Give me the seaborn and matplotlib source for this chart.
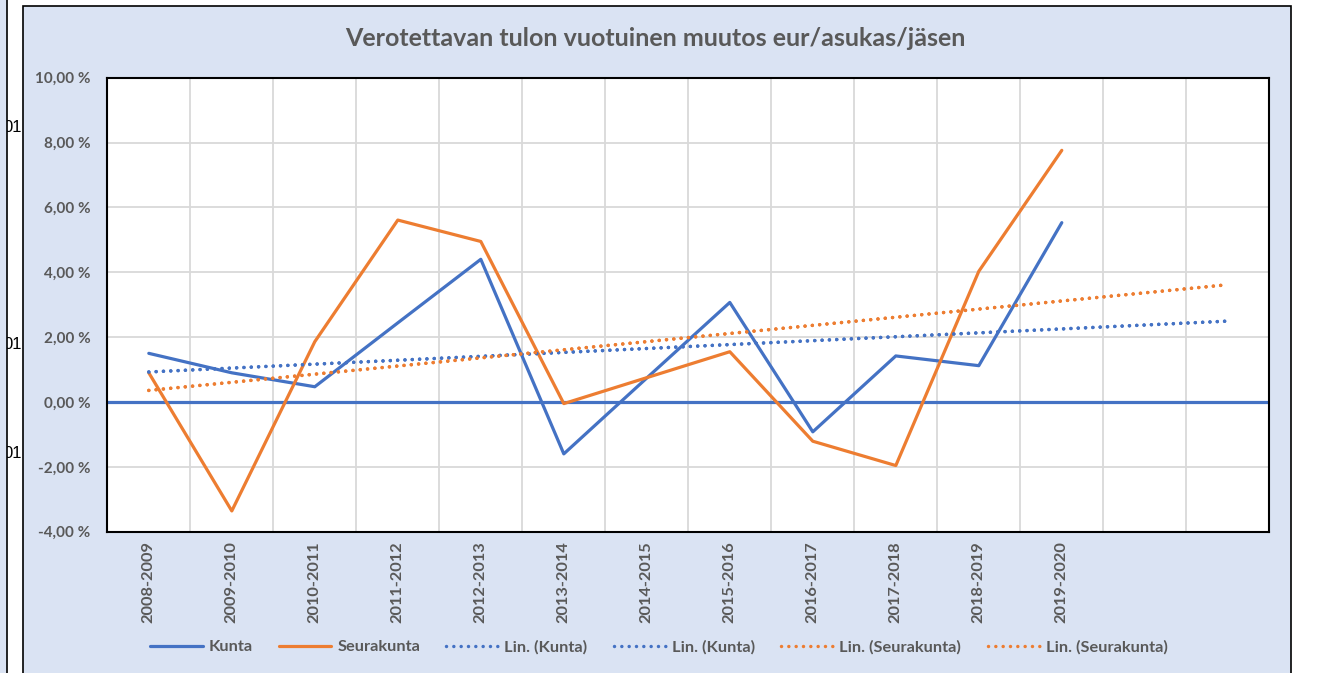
import numpy as np
import pandas as pd
import matplotlib.pyplot as plt
import seaborn as sns
from matplotlib.patches import Rectangle
from matplotlib.ticker import FuncFormatter

# data (% change per year)
categories = ["2008-2009", "2009-2010", "2010-2011", "2011-2012", "2012-2013", "2013-2014",
              "2014-2015", "2015-2016", "2016-2017", "2017-2018", "2018-2019", "2019-2020"]
kunta = [1.50, 0.90, 0.47, 2.44, 4.40, -1.60, 0.74, 3.07, -0.92, 1.42, 1.12, 5.53]
seurakunta = [0.90, -3.36, 1.86, 5.61, 4.95, -0.05, 0.75, 1.55, -1.21, -1.96, 4.03, 7.76]
forecast_periods = 2  # Excel linear trendline, forecast forward 2 periods
y_ticks = [-4, -2, 0, 2, 4, 6, 8, 10]
title = "Verotettavan tulon vuotuinen muutos eur/asukas/jäsen"

BLUE = "#4472C4"
ORANGE = "#ED7D31"
BG = "#DAE3F3"
TXT = "#595959"
GRID = "#D9D9D9"

sns.set_theme(style="white")
plt.rcParams["font.family"] = ["Lato", "DejaVu Sans"]

W, H = 1326, 673
fig = plt.figure(figsize=(W / 100, H / 100), dpi=100)
fig.patch.set_facecolor("white")


def fx(px):
    return px / W


def fy(py):
    return 1 - py / H


# bits of the neighbouring chart on the left
for yy in [128, 345, 453]:
    fig.text(fx(22), fy(yy), "01", ha="right", va="center", fontsize=12,
             color="black", family="Liberation Sans", zorder=-3)
fig.add_artist(Rectangle((-0.01, -0.05), fx(7.3) + 0.01, 1.1, transform=fig.transFigure,
                         facecolor=BG, edgecolor="black", lw=1.2, zorder=-2))
# chart area
fig.add_artist(Rectangle((fx(22.7), -0.05), fx(1291) - fx(22.7), fy(6) + 0.05,
                         transform=fig.transFigure, facecolor=BG, edgecolor="black",
                         lw=1.2, zorder=-2))

ax = fig.add_axes([fx(107.3), fy(531.7), fx(1269.3) - fx(107.3), (531.7 - 77.7) / H])
ax.set_facecolor("white")

df = pd.DataFrame({"pos": np.arange(len(categories)), "Kunta": kunta, "Seurakunta": seurakunta})
x_trend = np.arange(len(categories) + forecast_periods)

ax.axhline(0, color=BLUE, lw=2.3, zorder=1.5)

lw = 2.3
sns.lineplot(data=df, x="pos", y="Kunta", color=BLUE, lw=lw, label="Kunta", ax=ax)
sns.lineplot(data=df, x="pos", y="Seurakunta", color=ORANGE, lw=lw, label="Seurakunta", ax=ax)

dots = (0, (0.01, 2.1))
for name, col in [("Kunta", BLUE), ("Seurakunta", ORANGE)]:
    coef = np.polyfit(df["pos"], df[name], 1)
    trend = np.polyval(coef, x_trend)
    for _ in range(2):
        sns.lineplot(x=x_trend, y=trend, color=col, lw=2.5, linestyle=dots,
                     dash_capstyle="round", label=f"Lin. ({name})", ax=ax)

handles, labels = ax.get_legend_handles_labels()
ax.get_legend().remove()

ax.set_xlim(-0.5, 13.5)
ax.set_ylim(-4, 10)
ax.set_yticks(y_ticks)
ax.yaxis.set_major_formatter(FuncFormatter(lambda v, _: f"{v:.2f}".replace(".", ",") + " %"))
ax.set_xticks(np.arange(len(categories)))
ax.set_xticklabels(categories, rotation=90)
ax.set_xticks(np.arange(-0.5, 14, 1), minor=True)
ax.grid(which="minor", axis="x", color=GRID, lw=1.3)
ax.grid(which="major", axis="y", color=GRID, lw=1.3)
ax.grid(which="major", axis="x", visible=False)
ax.set_axisbelow(True)
ax.tick_params(which="both", length=0)
ax.tick_params(axis="y", pad=12, labelsize=11, labelcolor=TXT)
ax.tick_params(axis="x", pad=7, labelsize=11.8, labelcolor=TXT)
for lab in ax.get_xticklabels() + ax.get_yticklabels():
    lab.set_fontweight("bold")
ax.set_xlabel("")
ax.set_ylabel("")
for sp in ax.spines.values():
    sp.set_visible(True)
    sp.set_color("black")
    sp.set_linewidth(1.5)

fig.text(fx(655), fy(38), title, ha="center", va="center", fontsize=18,
         fontweight="bold", color=TXT)

fig.legend(handles, labels, loc="center", bbox_to_anchor=(fx(659), fy(647)), ncol=6,
           frameon=False, handlelength=3.2, handletextpad=0.35, columnspacing=1.6,
           prop={"weight": "bold", "size": 11.8}, labelcolor=TXT)

fig.savefig("out.png", dpi=100)
